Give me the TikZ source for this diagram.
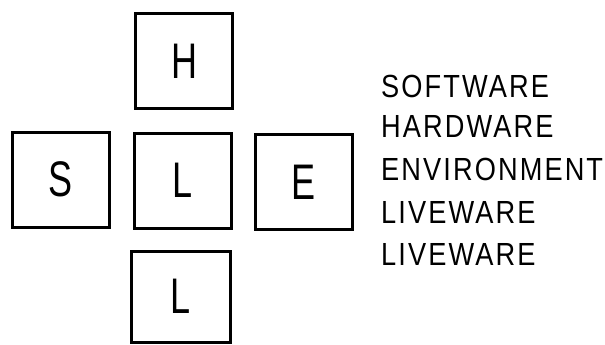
\documentclass[tikz,border=0pt]{standalone}
\usepackage{fontspec}
\setmainfont{Liberation Sans}
\newfontfamily\spacedfont[LetterSpace=7.7]{Liberation Sans}
\begin{document}
\begin{tikzpicture}[x=1pt,y=-1pt,
  box/.style={draw, line width=3pt, inner sep=0pt, minimum width=97pt, minimum height=95pt,
    font=\fontsize{50}{50}\selectfont},
  lbl/.style={anchor=base west, inner sep=0pt, font=\spacedfont\fontsize{32}{32}\selectfont}]
\useasboundingbox (0,0) rectangle (605,345);
\node[box] (H) at (184,61) {\scalebox{0.72}[1]{H}};
\node[box] (S) at (61,179.5) {\scalebox{0.72}[1]{S}};
\node[box] (L) at (182.5,180.5) {\scalebox{0.72}[1]{L}};
\node[box] (E) at (303.5,182) {\scalebox{0.72}[1]{E}};
\node[box, minimum width=99pt, minimum height=91pt] (L2) at (180.5,296.5) {\scalebox{0.72}[1]{L}};
\node[lbl] (t1) at (381,97) {\scalebox{0.85}[1]{SOFTWARE}};
\node[lbl] (t2) at (381,137) {\scalebox{0.85}[1]{HARDWARE}};
\node[lbl] (t3) at (381,180) {\scalebox{0.85}[1]{ENVIRONMENT}};
\node[lbl] (t4) at (381,223) {\scalebox{0.85}[1]{LIVEWARE}};
\node[lbl] (t5) at (381,265) {\scalebox{0.85}[1]{LIVEWARE}};
\end{tikzpicture}
\end{document}
